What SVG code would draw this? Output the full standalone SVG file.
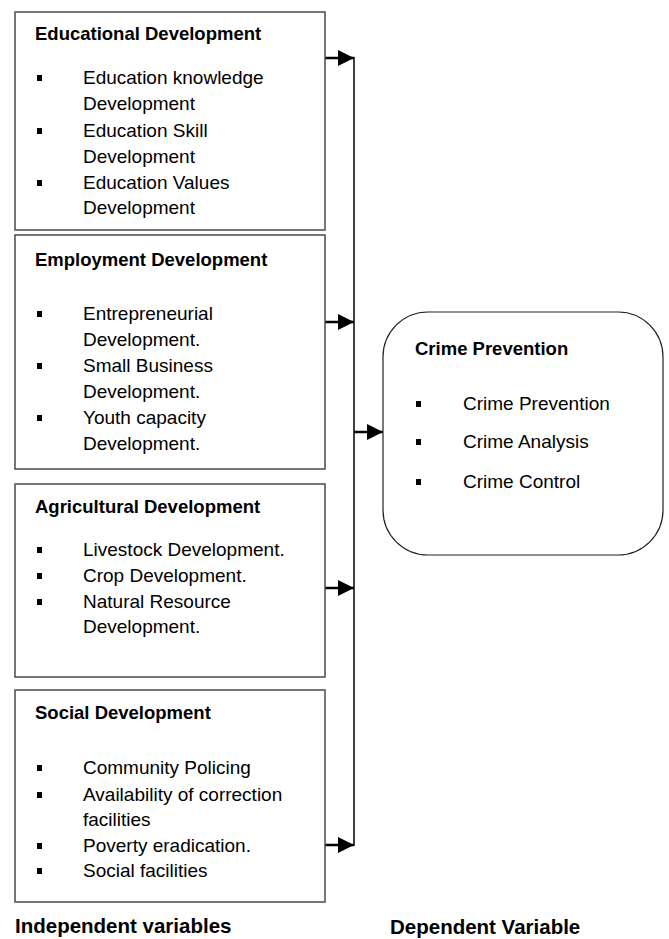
<svg xmlns="http://www.w3.org/2000/svg" width="669" height="939" viewBox="0 0 669 939">
<style>
.box{fill:#fff;stroke:#4a4a4a;stroke-width:1.5}
.rbox{fill:#fff;stroke:#222;stroke-width:1.2}
.t{font-family:"Liberation Sans",Arial,sans-serif;font-weight:bold;font-size:18.5px;fill:#000}
.i{font-family:"Liberation Sans",Arial,sans-serif;font-size:19px;fill:#000}
.lbl{font-family:"Liberation Sans",Arial,sans-serif;font-weight:bold;font-size:20.5px;fill:#000}
.b{fill:#000}
.ln{fill:none;stroke:#000;stroke-width:1.5}
.sh{fill:none;stroke:#000;stroke-width:2.5}
</style>
<defs>
<marker id="ah" markerUnits="userSpaceOnUse" markerWidth="16" markerHeight="16" refX="16" refY="8" orient="auto">
<path d="M0,0 L16,8 L0,16 Z" fill="#000"/>
</marker>
</defs>

<g id="connectors">
<line class="ln" x1="354" y1="57" x2="354" y2="846"/>
<line class="sh" x1="325" y1="58" x2="354" y2="58" marker-end="url(#ah)"/>
<line class="sh" x1="325" y1="322" x2="354" y2="322" marker-end="url(#ah)"/>
<line class="sh" x1="325" y1="588" x2="354" y2="588" marker-end="url(#ah)"/>
<line class="sh" x1="325" y1="845" x2="354" y2="845" marker-end="url(#ah)"/>
<line class="sh" x1="354" y1="432" x2="383" y2="432" marker-end="url(#ah)"/>
</g>

<g id="educational">
<rect class="box" x="15" y="12" width="310" height="218"/>
<text class="t" x="35" y="40">Educational Development</text>
<rect class="b" x="37" y="75" width="5" height="6"/>
<text class="i" x="83" y="84">Education knowledge</text>
<text class="i" x="83" y="110">Development</text>
<rect class="b" x="37" y="128" width="5" height="6"/>
<text class="i" x="83" y="137">Education Skill</text>
<text class="i" x="83" y="163">Development</text>
<rect class="b" x="37" y="180" width="5" height="6"/>
<text class="i" x="83" y="189">Education Values</text>
<text class="i" x="83" y="214">Development</text>
</g>

<g id="employment">
<rect class="box" x="15" y="235" width="310" height="234"/>
<text class="t" x="35" y="266">Employment Development</text>
<rect class="b" x="37" y="311" width="5" height="6"/>
<text class="i" x="83" y="320">Entrepreneurial</text>
<text class="i" x="83" y="346">Development.</text>
<rect class="b" x="37" y="363" width="5" height="6"/>
<text class="i" x="83" y="372">Small Business</text>
<text class="i" x="83" y="398">Development.</text>
<rect class="b" x="37" y="415" width="5" height="6"/>
<text class="i" x="83" y="424">Youth capacity</text>
<text class="i" x="83" y="450">Development.</text>
</g>

<g id="agricultural">
<rect class="box" x="15" y="484" width="310" height="193"/>
<text class="t" x="35" y="513">Agricultural Development</text>
<rect class="b" x="37" y="547" width="5" height="6"/>
<text class="i" x="83" y="556">Livestock Development.</text>
<rect class="b" x="37" y="573" width="5" height="6"/>
<text class="i" x="83" y="582">Crop Development.</text>
<rect class="b" x="37" y="599" width="5" height="6"/>
<text class="i" x="83" y="608">Natural Resource</text>
<text class="i" x="83" y="633">Development.</text>
</g>

<g id="social">
<rect class="box" x="15" y="690" width="310" height="212"/>
<text class="t" x="35" y="719">Social Development</text>
<rect class="b" x="37" y="765" width="5" height="6"/>
<text class="i" x="83" y="774">Community Policing</text>
<rect class="b" x="37" y="792" width="5" height="6"/>
<text class="i" x="83" y="801">Availability of correction</text>
<text class="i" x="83" y="826">facilities</text>
<rect class="b" x="37" y="843" width="5" height="6"/>
<text class="i" x="83" y="852">Poverty eradication.</text>
<rect class="b" x="37" y="868" width="5" height="6"/>
<text class="i" x="83" y="877">Social facilities</text>
</g>

<g id="crime-prevention">
<rect class="rbox" x="383" y="312" width="280" height="243" rx="45" ry="45"/>
<text class="t" x="415" y="355">Crime Prevention</text>
<rect class="b" x="416" y="401" width="5" height="6"/>
<text class="i" x="463" y="410">Crime Prevention</text>
<rect class="b" x="416" y="439" width="5" height="6"/>
<text class="i" x="463" y="448">Crime Analysis</text>
<rect class="b" x="416" y="479" width="5" height="6"/>
<text class="i" x="463" y="488">Crime Control</text>
</g>

<g id="labels">
<text class="lbl" x="15" y="933">Independent variables</text>
<text class="lbl" x="390" y="934">Dependent Variable</text>
</g>
</svg>
